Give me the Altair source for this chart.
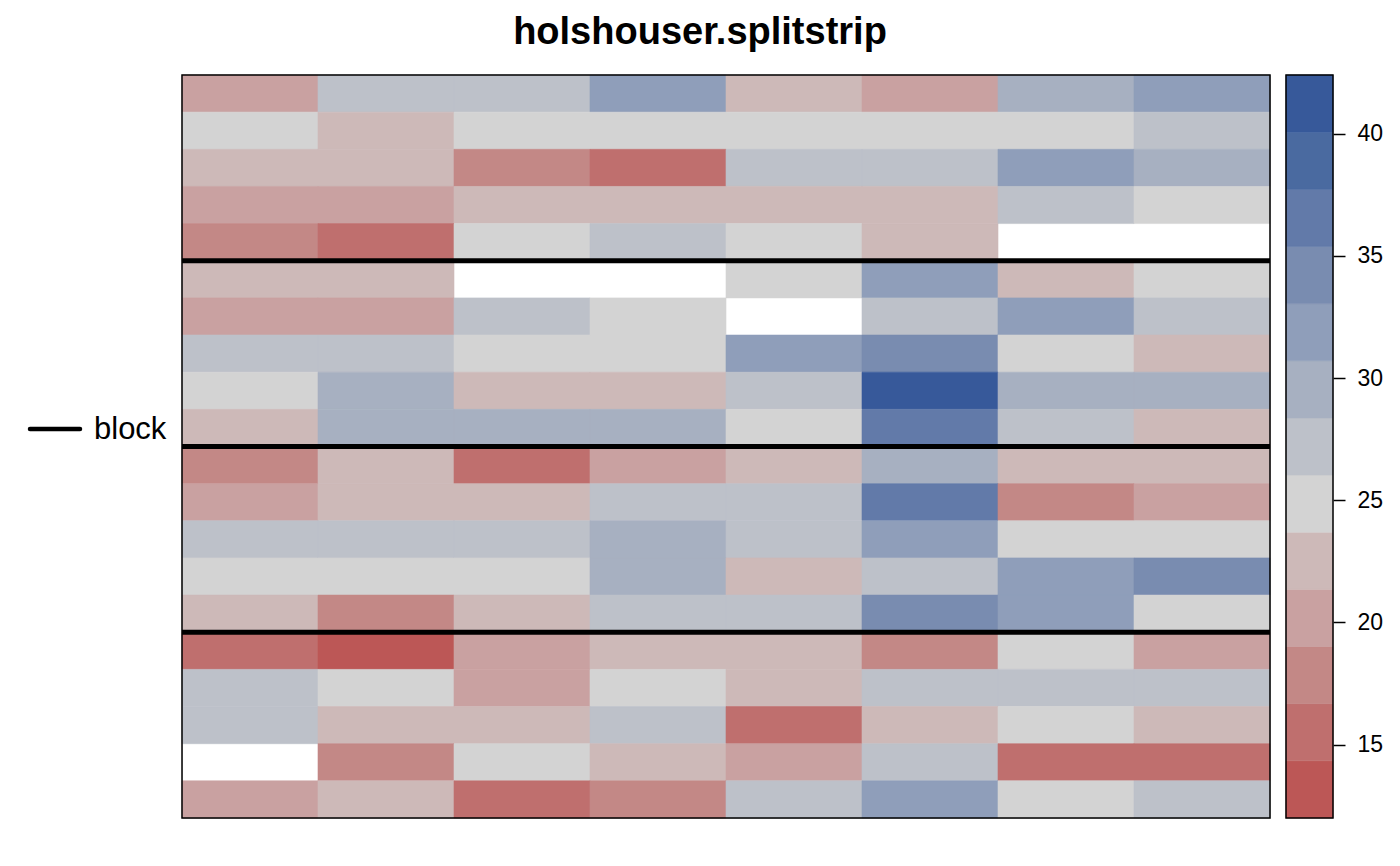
import altair as alt
import pandas as pd

title_text = "holshouser.splitstrip"
legend_label = "block"

# yield values, rows top to bottom, 8 columns each (None = missing)
r01 = [20.2, 27.2, 27.2, 31.9, 22.5, 20.2, 29.5, 31.9]
r02 = [24.9, 22.5, 24.9, 24.9, 24.9, 24.9, 24.9, 27.2]
r03 = [22.5, 22.5, 17.8, 15.5, 27.2, 27.2, 31.9, 29.5]
r04 = [20.2, 20.2, 22.5, 22.5, 22.5, 22.5, 27.2, 24.9]
r05 = [17.8, 15.5, 24.9, 27.2, 24.9, 22.5, None, None]
r06 = [22.5, 22.5, None, None, 24.9, 31.9, 22.5, 24.9]
r07 = [20.2, 20.2, 27.2, 24.9, None, 27.2, 31.9, 27.2]
r08 = [27.2, 27.2, 24.9, 24.9, 31.9, 34.2, 24.9, 22.5]
r09 = [24.9, 29.5, 22.5, 22.5, 27.2, 42.4, 29.5, 29.5]
r10 = [22.5, 29.5, 29.5, 29.5, 24.9, 36.6, 27.2, 22.5]
r11 = [17.8, 22.5, 15.5, 20.2, 22.5, 29.5, 22.5, 22.5]
r12 = [20.2, 22.5, 22.5, 27.2, 27.2, 36.6, 17.8, 20.2]
r13 = [27.2, 27.2, 27.2, 29.5, 27.2, 31.9, 24.9, 24.9]
r14 = [24.9, 24.9, 24.9, 29.5, 22.5, 27.2, 31.9, 34.2]
r15 = [22.5, 17.8, 22.5, 27.2, 27.2, 34.2, 31.9, 24.9]
r16 = [15.5, 12.0, 20.2, 22.5, 22.5, 17.8, 24.9, 20.2]
r17 = [27.2, 24.9, 20.2, 24.9, 22.5, 27.2, 27.2, 27.2]
r18 = [27.2, 22.5, 22.5, 27.2, 15.5, 22.5, 24.9, 22.5]
r19 = [None, 17.8, 24.9, 22.5, 20.2, 27.2, 15.5, 15.5]
r20 = [20.2, 22.5, 15.5, 17.8, 27.2, 31.9, 24.9, 27.2]
rows = [r01, r02, r03, r04, r05, r06, r07, r08, r09, r10,
        r11, r12, r13, r14, r15, r16, r17, r18, r19, r20]

block_breaks = [5, 10, 15]
key_ticks = [15, 20, 25, 30, 35, 40]
bin_colors = ["#BC5756", "#BF6F6E", "#C38886", "#C9A1A1", "#CDB9B8", "#D3D3D3",
              "#BDC1C9", "#A7B0C1", "#8F9EBA", "#798CB0", "#627AA9", "#4A6AA0", "#37599A"]
z_lo, z_hi = 12.0, 42.4

n_rows = len(rows)
n_cols = len(rows[0])
nb = len(bin_colors)
edges = [z_lo + (z_hi - z_lo) * k / nb for k in range(nb + 1)]
thresholds = edges[1:-1]

recs = []
for i, row in enumerate(rows):
    for j, v in enumerate(row):
        if v is None:
            continue
        recs.append({"row": i, "row2": i + 1, "col": j, "col2": j + 1, "yield": v})
df = pd.DataFrame(recs)

FONT = "Liberation Sans"
W, H = 1088, 743
KEY_X0, KEY_X1 = 1104, 1151

cscale = alt.Scale(type="threshold", domain=thresholds, range=bin_colors)
xs = alt.Scale(domain=[0, n_cols], nice=False, zero=False)
ys = alt.Scale(domain=[0, n_rows], nice=False, zero=False, reverse=True)

heat = alt.Chart(df).mark_rect(strokeWidth=0.6).encode(
    x=alt.X("col:Q", scale=xs, axis=None),
    x2="col2:Q",
    y=alt.Y("row:Q", scale=ys, axis=None),
    y2="row2:Q",
    color=alt.Color("yield:Q", scale=cscale, legend=None),
    stroke=alt.Stroke("yield:Q", scale=cscale, legend=None),
)

blines = alt.Chart(pd.DataFrame({"b": block_breaks})).mark_rule(
    color="black", strokeWidth=5
).encode(
    y=alt.Y("b:Q", scale=ys, axis=None),
    x=alt.value(0), x2=alt.value(W),
)

one = pd.DataFrame({"label": [legend_label]})

border = alt.Chart(one).mark_rect(fillOpacity=0, stroke="black", strokeWidth=1.5).encode(
    x=alt.value(0), x2=alt.value(W), y=alt.value(0), y2=alt.value(H)
)

key_df = pd.DataFrame({"lo": edges[:-1], "hi": edges[1:], "c": bin_colors})
key = alt.Chart(key_df).mark_rect(strokeWidth=0.6).encode(
    y=alt.Y("lo:Q", scale=alt.Scale(domain=[z_lo, z_hi], nice=False, zero=False),
            axis=alt.Axis(orient="right", offset=KEY_X1 - W, values=key_ticks, title=None,
                          grid=False, domain=False, tickColor="black", tickSize=12,
                          tickWidth=1.5, labelFontSize=23, labelColor="black",
                          labelFont=FONT, labelPadding=12)),
    y2="hi:Q",
    x=alt.value(KEY_X0),
    x2=alt.value(KEY_X1),
    color=alt.Color("c:N", scale=None),
    stroke=alt.Stroke("c:N", scale=None),
)

key_border = alt.Chart(one).mark_rect(fillOpacity=0, stroke="black", strokeWidth=1.5).encode(
    x=alt.value(KEY_X0), x2=alt.value(KEY_X1), y=alt.value(0), y2=alt.value(H)
)

lg_line = alt.Chart(one).mark_rule(color="black", strokeWidth=4.5, strokeCap="round").encode(
    x=alt.value(-152), x2=alt.value(-102), y=alt.value(354), y2=alt.value(354)
)
lg_text = alt.Chart(one).mark_text(
    align="left", baseline="middle", fontSize=31, font=FONT, color="black"
).encode(x=alt.value(-88), y=alt.value(355), text="label:N")

title = alt.Chart(pd.DataFrame({"t": [title_text]})).mark_text(
    align="center", baseline="alphabetic", fontSize=38, fontWeight="bold",
    font=FONT, color="black"
).encode(x=alt.value(518), y=alt.value(-31), text="t:N")

chart = alt.layer(heat, blines, border, key, key_border, lg_line, lg_text, title).resolve_scale(
    y="independent", color="independent", stroke="independent"
).properties(
    width=W, height=H,
    autosize=alt.AutoSizeParams(type="none"),
    padding={"left": 174, "top": 67, "right": 120, "bottom": 40},
).configure_view(strokeWidth=0).configure(background="white")

chart.save("out.html", embed_options={"renderer": "svg", "actions": False})
